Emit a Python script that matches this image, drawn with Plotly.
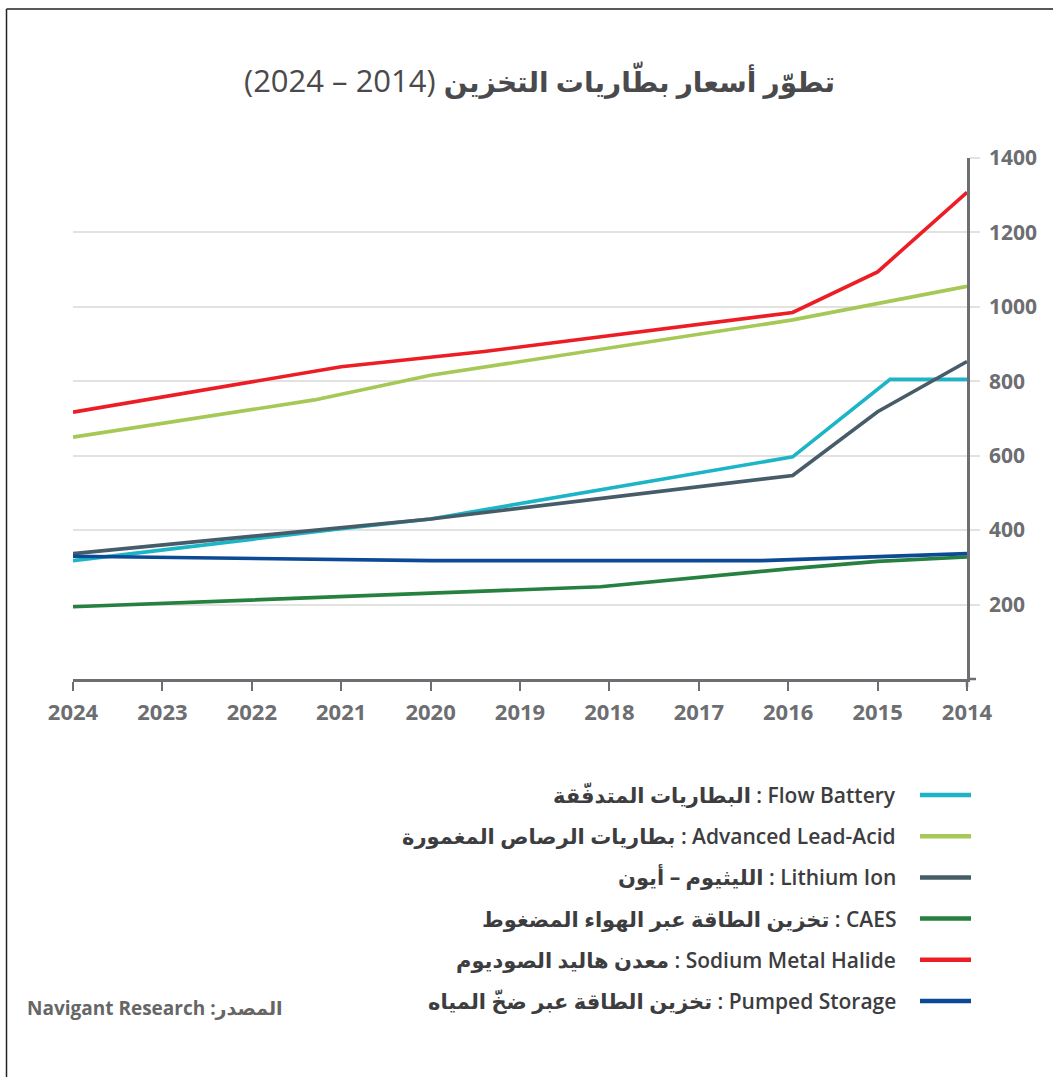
import plotly.graph_objects as go

# ---------------- data ----------------
series_en = ["Flow Battery", "Advanced Lead-Acid", "Lithium Ion", "CAES",
             "Sodium Metal Halide", "Pumped Storage"]
series_ar = ["البطاريات المتدفّقة", "بطاريات الرصاص المغمورة", "الليثيوم – أيون",
             "تخزين الطاقة عبر الهواء المضغوط", "معدن هاليد الصوديوم", "تخزين الطاقة عبر ضخّ المياه"]
colors = ["#1cb4c7", "#a6c856", "#465c69", "#26803f", "#ec1d25", "#0c4a96"]

flow_x = [2024, 2021, 2020, 2015.95, 2014.86, 2014]
flow_y = [318, 404, 430, 597, 805, 805]

lead_x = [2024, 2021.3, 2020, 2015.95, 2014]
lead_y = [650, 750, 816, 965, 1055]

li_x = [2024, 2020, 2015.95, 2015, 2014]
li_y = [337, 430, 547, 718, 853]

caes_x = [2024, 2020, 2018.1, 2016, 2015, 2014]
caes_y = [194, 229, 248, 296, 316, 328]

sodium_x = [2024, 2021, 2019.4, 2015.95, 2015, 2014]
sodium_y = [717, 839, 880, 985, 1094, 1308]

pumped_x = [2024, 2020, 2016.3, 2014]
pumped_y = [330, 318, 318, 337]

xs = [flow_x, lead_x, li_x, caes_x, sodium_x, pumped_x]
ys = [flow_y, lead_y, li_y, caes_y, sodium_y, pumped_y]

year_ticks = list(range(2014, 2025))
value_ticks = [200, 400, 600, 800, 1000, 1200, 1400]

title_years = "(2024 – 2014)"
title_ar = "تطوّر أسعار بطّاريات التخزين"
source_en = "Navigant Research"
source_ar = "المصدر"

# ---------------- geometry helpers ----------------
W, H = 1053, 1077
L, R, T, B = 73, 967, 158, 679


def px(x):
    return (x - L) / (R - L)


def py(y):
    return (B - y) / (B - T)


LATIN = "Open Sans, Noto Sans, DejaVu Sans, sans-serif"
GREY = "#6d6e71"

fig = go.Figure()
for name, c, x, y in zip(series_en, colors, xs, ys):
    fig.add_trace(go.Scatter(x=x, y=y, mode="lines", name=name,
                             line=dict(color=c, width=3.6), showlegend=False,
                             hoverinfo="skip"))

shapes = []
annotations = []

# frame (left and top border)
shapes.append(dict(type="line", xref="paper", yref="paper",
                   x0=px(6.5), x1=px(6.5), y0=py(9), y1=py(1080),
                   line=dict(color="#222222", width=1.5)))
shapes.append(dict(type="line", xref="paper", yref="paper",
                   x0=px(6.5), x1=px(1060), y0=py(9), y1=py(9),
                   line=dict(color="#222222", width=1.5)))
# small axis extensions at the corner
shapes.append(dict(type="line", xref="paper", yref="paper",
                   x0=1, x1=px(976), y0=0, y1=0,
                   line=dict(color=GREY, width=2.5)))
shapes.append(dict(type="line", xref="paper", yref="paper",
                   x0=1, x1=1, y0=0, y1=py(687),
                   line=dict(color=GREY, width=2.5)))

# title
annotations.append(dict(
    text=f"{title_years} <b><span style='font-size:28px'>{title_ar}</span></b>",
    xref="paper", yref="paper",
    x=px(539), y=py(80), xanchor="center", yanchor="middle",
    showarrow=False,
    font=dict(family=LATIN, size=31, color="#4a4a4c")))

# manual legend (swatch on the right of the label)
row0, dy = 795, 41.2
for i, (en, ar, c) in enumerate(zip(series_en, series_ar, colors)):
    yy = row0 + i * dy
    annotations.append(dict(text=f"<b>{ar}</b> : {en}", xref="paper", yref="paper",
                            x=px(898), y=py(yy), xanchor="right", yanchor="middle",
                            showarrow=False,
                            font=dict(family=LATIN, size=21, color="#3d3d3f", weight=600)))
    shapes.append(dict(type="line", xref="paper", yref="paper",
                       x0=px(920), x1=px(971), y0=py(yy), y1=py(yy),
                       line=dict(color=c, width=4.5)))

# source
annotations.append(dict(text=f"{source_en} :{source_ar}", xref="paper", yref="paper",
                        x=px(25), y=py(1008), xanchor="left", yanchor="middle",
                        showarrow=False,
                        font=dict(family=LATIN, size=19, color="#666666", weight=700)))

fig.update_layout(
    width=W, height=H,
    margin=dict(l=L, r=W - R, t=T, b=H - B, pad=0),
    paper_bgcolor="white", plot_bgcolor="white",
    showlegend=False,
    shapes=shapes, annotations=annotations,
    xaxis=dict(range=[2024, 2014], tickvals=year_ticks,
               ticktext=[str(v) for v in year_ticks],
               ticks="outside", ticklen=9, tickwidth=2, tickcolor=GREY,
               showline=True, linecolor=GREY, linewidth=2.5,
               showgrid=False, zeroline=False,
               tickfont=dict(family=LATIN, size=22, color=GREY, weight=700),
               ticklabelstandoff=3),
    yaxis=dict(range=[0, 1400], side="right", tickvals=value_ticks,
               ticktext=[str(v) for v in value_ticks],
               ticks="outside", ticklen=10, tickwidth=1.5, tickcolor="#e2e2e2",
               showline=True, linecolor=GREY, linewidth=2.5,
               showgrid=True, gridcolor="#e2e2e2", gridwidth=1.5,
               zeroline=False,
               tickfont=dict(family=LATIN, size=21, color=GREY, weight=700),
               ticklabelstandoff=5),
)

fig.write_html("out.html")
